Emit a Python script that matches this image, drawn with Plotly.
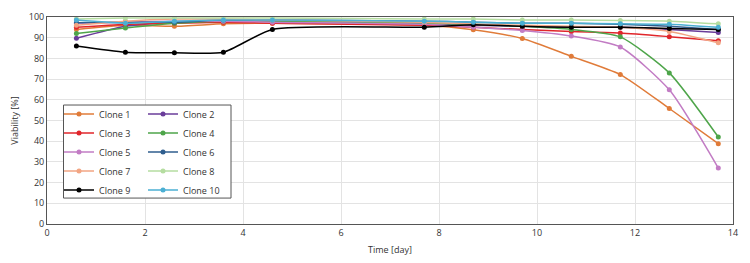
import plotly.graph_objects as go

days = [0.6, 1.6, 2.6, 3.6, 4.6, 7.7, 8.7, 9.7, 10.7, 11.7, 12.7, 13.7]
clone_names = ["Clone 1", "Clone 2", "Clone 3", "Clone 4", "Clone 5",
               "Clone 6", "Clone 7", "Clone 8", "Clone 9", "Clone 10"]
clone1 = [94.0, 96.0, 95.5, 96.7, 97.0, 96.0, 93.8, 89.6, 81.0, 72.2, 55.8, 38.8]
clone2 = [89.7, 95.5, 97.5, 98.0, 98.0, 97.0, 96.0, 95.5, 95.0, 95.0, 94.0, 92.5]
clone3 = [95.0, 96.5, 97.0, 97.5, 97.0, 96.0, 95.0, 94.0, 93.0, 92.3, 90.5, 88.5]
clone4 = [92.0, 94.7, 97.0, 98.0, 98.0, 97.0, 96.5, 95.5, 94.0, 90.4, 73.0, 42.0]
clone5 = [97.0, 97.5, 98.0, 98.0, 97.5, 96.5, 95.0, 93.5, 90.8, 85.5, 64.8, 27.0]
clone6 = [97.2, 97.5, 97.5, 98.5, 98.5, 98.0, 97.5, 97.0, 97.0, 96.5, 95.5, 94.0]
clone7 = [96.0, 98.0, 99.0, 99.0, 98.5, 97.5, 96.5, 96.0, 95.5, 95.0, 93.0, 87.5]
clone8 = [99.0, 99.5, 99.5, 99.5, 99.5, 99.0, 99.0, 98.5, 98.5, 98.3, 98.0, 96.7]
clone9 = [86.0, 83.0, 82.7, 83.0, 94.0, 95.1, 96.3, 95.5, 95.0, 95.0, 94.5, 94.0]
clone10 = [98.5, 97.0, 98.0, 98.5, 98.5, 98.0, 97.5, 97.0, 97.0, 96.7, 96.5, 95.0]
series = [clone1, clone2, clone3, clone4, clone5, clone6, clone7, clone8, clone9, clone10]
colors = ["#E07B39", "#6A3D9A", "#E0262B", "#4EA54A", "#C27CC4",
          "#2F5E8E", "#F2A583", "#B5DDA0", "#000000", "#4BAFD3"]

x_ticks = [0, 2, 4, 6, 8, 10, 12, 14]
y_ticks = [0, 10, 20, 30, 40, 50, 60, 70, 80, 90, 100]

FONT = "Open Sans"
fig = go.Figure()
for i, (name, ys, c) in enumerate(zip(clone_names, series, colors)):
    fig.add_trace(go.Scatter(
        x=days, y=ys, name=name, mode="lines+markers",
        line=dict(color=c, width=1.5, shape="spline", smoothing=0.6),
        marker=dict(color=c, size=5),
        legend="legend" if i % 2 == 0 else "legend2",
    ))

W, H = 750, 263
ml, mr, mt, mb = 47, 17, 10, 35
pw, ph = W - ml - mr, H - mt - mb

def px_x(p):
    return (p - ml) / pw

def px_y(p):
    return (H - mb - p) / ph

legend_common = dict(
    font=dict(family=FONT, size=9, color="#333333"),
    bgcolor="rgba(0,0,0,0)", borderwidth=0,
    orientation="v", xanchor="left", yanchor="top",
    itemwidth=30, tracegroupgap=0,
)

fig.update_layout(
    width=W, height=H,
    margin=dict(l=ml, r=mr, t=mt, b=mb),
    paper_bgcolor="white", plot_bgcolor="white",
    font=dict(family=FONT, size=9, color="#333333"),
    showlegend=True,
    legend=dict(x=px_x(59), y=px_y(97), **legend_common),
    legend2=dict(x=px_x(143), y=px_y(97), **legend_common),
    xaxis=dict(
        range=[0, 14], tickvals=x_ticks, ticktext=[str(v) for v in x_ticks],
        showgrid=True, gridcolor="#E3E3E3", gridwidth=1,
        showline=True, linecolor="#555555", linewidth=1, mirror=True,
        ticks="", zeroline=False,
        title=dict(text="Time [day]", font=dict(size=9, family=FONT), standoff=8),
        tickfont=dict(size=9, family=FONT),
    ),
    yaxis=dict(
        range=[0, 100], tickvals=y_ticks, ticktext=[str(v) for v in y_ticks],
        showgrid=True, gridcolor="#E3E3E3", gridwidth=1,
        showline=True, linecolor="#555555", linewidth=1, mirror=True,
        ticks="", zeroline=False,
        title=dict(text="Viability [%]", font=dict(size=9, family=FONT), standoff=8),
        tickfont=dict(size=9, family=FONT),
    ),
    shapes=[dict(
        type="rect", xref="paper", yref="paper", layer="above",
        x0=px_x(63.5), x1=px_x(231), y0=px_y(200.7), y1=px_y(102.7),
        line=dict(color="#555555", width=1), fillcolor="white",
    )],
)

fig.write_html("out.html")
